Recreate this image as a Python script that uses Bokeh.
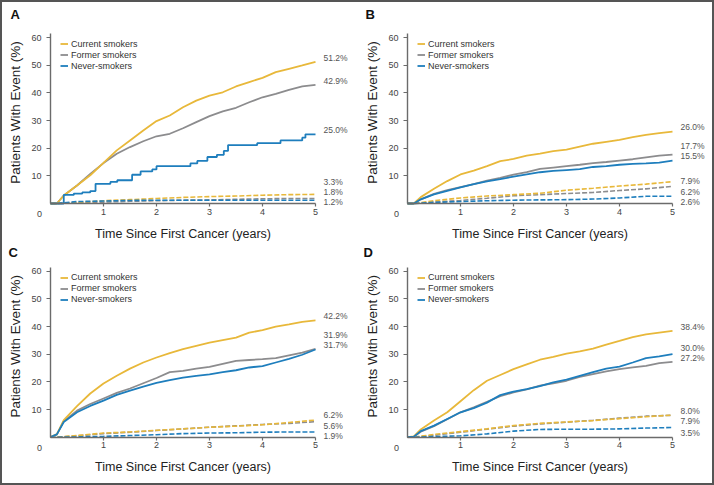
import numpy as np
from bokeh.plotting import figure
from bokeh.models import Range1d, FixedTicker, Label, Legend, LegendItem
from bokeh.layouts import gridplot
from bokeh.embed import file_html
from bokeh.resources import INLINE

# ---------------- data ----------------
series_names = ["Current smokers", "Former smokers", "Never-smokers"]
panel_letters = ["A", "B", "C", "D"]

T = [0, 0.12, 0.25, 0.5, 0.75, 1.0, 1.25, 1.5, 1.75, 2.0, 2.25, 2.5, 2.75,
     3.0, 3.25, 3.5, 3.75, 4.0, 4.25, 4.5, 4.75, 5.0]
TD = [0, 0.12, 0.5, 1.0, 1.5, 2.0, 2.5, 3.0, 3.5, 4.0, 4.5, 5.0]

# Panel A
A_current = [0, 0, 2.9, 6.5, 10.2, 14.7, 19.2, 22.8, 26.4, 29.8, 31.8, 34.8, 37.2,
             39.0, 40.2, 42.3, 43.9, 45.4, 47.5, 48.7, 49.9, 51.2]
A_former = [0, 0, 2.9, 6.5, 10.7, 14.6, 18.0, 20.4, 22.5, 24.3, 25.2, 27.2, 29.4,
            31.6, 33.3, 34.6, 36.6, 38.4, 39.6, 41.1, 42.3, 42.9]
A_never_t = [0, 0.13, 0.25, 0.44, 0.6, 0.75, 0.85, 1.13, 1.26, 1.54, 1.7, 1.92, 2.0,
             2.64, 2.77, 2.96, 3.14, 3.27, 3.35, 3.9, 4.34, 4.75, 4.81, 5.0]
A_never_v = [0, 0, 3.1, 3.6, 4.0, 4.5, 7.1, 7.8, 8.4, 10.4, 11.6, 12.3, 13.5,
             14.5, 15.4, 16.8, 17.6, 19.0, 21.1, 21.8, 22.8, 23.8, 25.0, 25.0]
A_current_d = [0, 0, 0.4, 1.0, 1.4, 1.8, 2.2, 2.5, 2.7, 3.0, 3.2, 3.3]
A_former_d = [0, 0, 0.2, 0.5, 0.8, 1.0, 1.2, 1.3, 1.5, 1.7, 1.8, 1.8]
A_never_d = [0, 0, 0.7, 0.9, 1.1, 1.2, 1.2, 1.2, 1.2, 1.2, 1.2, 1.2]

# Panel B
B_current = [0, 0, 2.3, 5.3, 8.1, 10.5, 11.9, 13.5, 15.3, 16.1, 17.3, 18.0, 18.9,
             19.5, 20.6, 21.6, 22.3, 23.0, 24.0, 24.8, 25.4, 26.0]
B_former = [0, 0, 1.5, 3.5, 4.8, 5.9, 7.0, 8.3, 9.3, 10.4, 11.3, 12.5, 13.0,
            13.5, 14.0, 14.6, 15.0, 15.5, 16.0, 16.7, 17.3, 17.7]
B_never = [0, 0, 1.5, 3.3, 4.6, 5.8, 7.0, 8.0, 8.8, 9.7, 10.5, 11.3, 11.8,
           12.1, 12.4, 13.2, 13.5, 14.0, 14.3, 14.5, 14.8, 15.5]
B_current_d = [0, 0, 1.0, 2.0, 2.7, 3.2, 3.7, 4.8, 5.5, 6.3, 7.0, 7.9]
B_former_d = [0, 0, 0.5, 1.1, 1.9, 2.8, 3.2, 3.6, 4.0, 4.7, 5.3, 6.2]
B_never_d = [0, 0, 0.4, 0.7, 1.0, 1.2, 1.3, 1.4, 1.6, 2.0, 2.6, 2.6]

# Panel C
C_current = [0, 1.0, 6.2, 11.2, 15.8, 19.4, 22.2, 24.8, 27.0, 28.8, 30.4, 31.8, 33.0,
             34.2, 35.1, 36.0, 37.8, 38.7, 40.0, 40.8, 41.7, 42.2]
C_former = [0, 1.0, 5.8, 9.6, 12.0, 14.0, 16.0, 17.6, 19.5, 21.4, 23.5, 24.0, 24.8,
            25.4, 26.5, 27.6, 27.9, 28.2, 28.6, 29.6, 30.6, 31.9]
C_never = [0, 1.0, 5.5, 9.0, 11.3, 13.2, 15.3, 16.8, 18.3, 19.6, 20.6, 21.5, 22.2,
           22.7, 23.5, 24.2, 25.2, 25.7, 27.0, 28.3, 29.8, 31.7]
C_current_d = [0, 0, 0.6, 1.5, 1.9, 2.5, 3.0, 3.6, 4.0, 4.5, 5.3, 6.2]
C_former_d = [0, 0, 0.5, 1.3, 1.8, 2.4, 3.0, 3.6, 4.1, 4.6, 5.0, 5.6]
C_never_d = [0, 0, 0.1, 0.3, 0.6, 0.9, 1.3, 1.5, 1.6, 1.8, 1.9, 1.9]

# Panel D
D_current = [0, 0.3, 2.8, 6.0, 9.0, 13.0, 17.0, 20.4, 22.5, 24.6, 26.3, 28.0, 29.0,
             30.2, 31.0, 32.0, 33.5, 34.8, 36.2, 37.2, 37.8, 38.4]
D_former = [0, 0.2, 2.0, 4.0, 6.5, 9.0, 10.8, 12.8, 14.8, 16.2, 17.3, 18.6, 19.5,
            20.4, 21.8, 22.8, 23.8, 24.6, 25.2, 25.8, 26.8, 27.2]
D_never = [0, 0.2, 2.2, 4.2, 6.6, 9.0, 10.5, 12.5, 15.2, 16.5, 17.4, 18.5, 19.8,
           20.8, 22.2, 23.5, 24.8, 25.5, 27.0, 28.6, 29.2, 30.0]
D_current_d = [0, 0, 1.0, 2.0, 3.0, 4.2, 5.0, 5.5, 6.0, 6.7, 7.4, 8.0]
D_former_d = [0, 0, 0.7, 1.8, 2.9, 4.0, 4.8, 5.4, 6.1, 6.9, 7.6, 7.9]
D_never_d = [0, 0, 0.2, 0.5, 1.2, 2.2, 2.8, 2.9, 2.9, 3.0, 3.3, 3.5]

x_ticks = [1, 2, 3, 4, 5]
y_ticks = [10, 20, 30, 40, 50, 60]

# ---------------- style / layout ----------------
YEL, GRY, BLU = "#E8B83A", "#8C8C8E", "#1E7EBD"
AXIS_C = "#6b6b6b"
XMAX, YMAX = 5.0, 61.5
SX = 53.0            # px per year
SY = 166.0 / 60.0    # px per percent
SANS = "Liberation Sans"


def make_panel(letter, fig_w, fig_h, left_px, base_py, letter_px, cur, form, nev,
               cur_d, form_d, nev_d, never_step=None):
    def X(px):                        # figure pixel column -> data x
        return (px - left_px) / SX

    def Y(py):                        # figure pixel row -> data y
        return (base_py - py) / SY

    p = figure(width=fig_w, height=fig_h, title=None,
               x_range=Range1d(X(0), X(fig_w)), y_range=Range1d(Y(fig_h), Y(0)),
               output_backend="svg", toolbar_location=None,
               min_border=0, min_border_left=0, min_border_right=0,
               min_border_top=0, min_border_bottom=0)
    p.outline_line_color = None
    p.xgrid.visible = False
    p.ygrid.visible = False
    p.background_fill_color = "white"
    p.border_fill_color = "white"

    for ax in (p.xaxis[0], p.yaxis[0]):
        ax.fixed_location = 0
        ax.axis_line_color = AXIS_C
        ax.axis_line_width = 1.4
        ax.major_tick_line_color = AXIS_C
        ax.major_tick_line_width = 1.2
        ax.minor_tick_line_color = None
        ax.major_tick_in = 0
        ax.major_label_text_font = SANS
        ax.major_label_text_font_size = "9px"
        ax.major_label_text_color = "#444444"
    p.xaxis.bounds = (0, XMAX)
    p.yaxis.bounds = (0, YMAX)
    p.xaxis.ticker = FixedTicker(ticks=x_ticks)
    p.yaxis.ticker = FixedTicker(ticks=y_ticks)
    p.xaxis.major_tick_out = 3
    p.xaxis.major_label_standoff = 2
    p.yaxis.major_tick_out = 4
    p.yaxis.major_label_standoff = 5

    # dashed series
    p.line(TD, form_d, color=GRY, line_width=1.6, line_dash="5 2")
    p.line(TD, cur_d, color=YEL, line_width=1.6, line_dash="5 2")
    p.line(TD, nev_d, color=BLU, line_width=1.6, line_dash="5 2")
    # solid series
    r_form = p.line(T, form, color=GRY, line_width=1.8)
    r_cur = p.line(T, cur, color=YEL, line_width=1.8)
    if never_step is not None:
        r_nev = p.step(never_step[0], never_step[1], mode="after", color=BLU, line_width=1.8)
    else:
        r_nev = p.line(T, nev, color=BLU, line_width=1.8)

    legend_top = base_py - 165
    legend = Legend(items=[LegendItem(label=series_names[0], renderers=[r_cur]),
                           LegendItem(label=series_names[1], renderers=[r_form]),
                           LegendItem(label=series_names[2], renderers=[r_nev])],
                    location=(left_px + 10, fig_h - (legend_top + 33)),
                    padding=0, margin=0, spacing=0,
                    glyph_width=8, glyph_height=11, label_height=11, label_standoff=3,
                    border_line_color=None, background_fill_alpha=0,
                    label_text_font=SANS, label_text_font_size="9px",
                    label_text_color="#333333")
    p.add_layout(legend)

    # end-of-curve percentages, spread so they do not overlap
    finals = [cur[-1], form[-1], nev[-1], cur_d[-1], form_d[-1], nev_d[-1]]
    gap, floor = 3.7, 0.5
    order = sorted(range(len(finals)), key=lambda i: finals[i])
    prev = None
    for i in order:
        v = finals[i]
        want = v + 1.5 if v > 10 else v - 2.0
        y = max(want, floor) if prev is None else max(want, prev + gap)
        prev = y
        p.add_layout(Label(x=XMAX + 8 / SX, y=y, text=f"{v:.1f}%", text_align="left",
                           text_baseline="middle", text_font=SANS, text_font_size="8.5px",
                           text_color="#555555"))

    # origin "0"
    p.add_layout(Label(x=X(left_px - 11), y=Y(base_py + 10.3), text="0",
                       text_align="center", text_baseline="middle", text_font=SANS,
                       text_font_size="9px", text_color="#444444"))
    # axis titles
    p.add_layout(Label(x=XMAX / 2, y=Y(base_py + 30), text="Time Since First Cancer (years)",
                       text_align="center", text_baseline="middle", text_font=SANS,
                       text_font_size="12.5px", text_color="#222222"))
    p.add_layout(Label(x=X(left_px - 35.5), y=Y(base_py - 91), text="Patients With Event (%)",
                       angle=np.pi / 2, text_align="center", text_baseline="middle",
                       text_font=SANS, text_font_size="13.5px", text_color="#222222"))
    # panel letter (kept fully inside its canvas)
    letter_py = max(base_py - 188.6, 8.5)
    p.add_layout(Label(x=X(letter_px), y=Y(letter_py), text=letter,
                       text_align="left", text_baseline="middle", text_font=SANS,
                       text_font_style="bold", text_font_size="13px", text_color="#111111"))
    return p


TOP_H, BOT_H, COL_W = 241, 240, 355
pA = make_panel(panel_letters[0], COL_W, TOP_H, 48, 201, 8, A_current, A_former, A_never_v,
                A_current_d, A_former_d, A_never_d, never_step=(A_never_t, A_never_v))
pB = make_panel(panel_letters[1], COL_W, TOP_H, 50, 201, 8, B_current, B_former, B_never,
                B_current_d, B_former_d, B_never_d)
pC = make_panel(panel_letters[2], COL_W, BOT_H, 48, 193.7, 6, C_current, C_former, C_never,
                C_current_d, C_former_d, C_never_d)
pD = make_panel(panel_letters[3], COL_W, BOT_H, 50, 193.7, 6, D_current, D_former, D_never,
                D_current_d, D_former_d, D_never_d)

grid = gridplot([[pA, pB], [pC, pD]], toolbar_location=None)
grid.styles = {"border": "2px solid #555555"}

open("out.html", "w").write(file_html(grid, INLINE))
